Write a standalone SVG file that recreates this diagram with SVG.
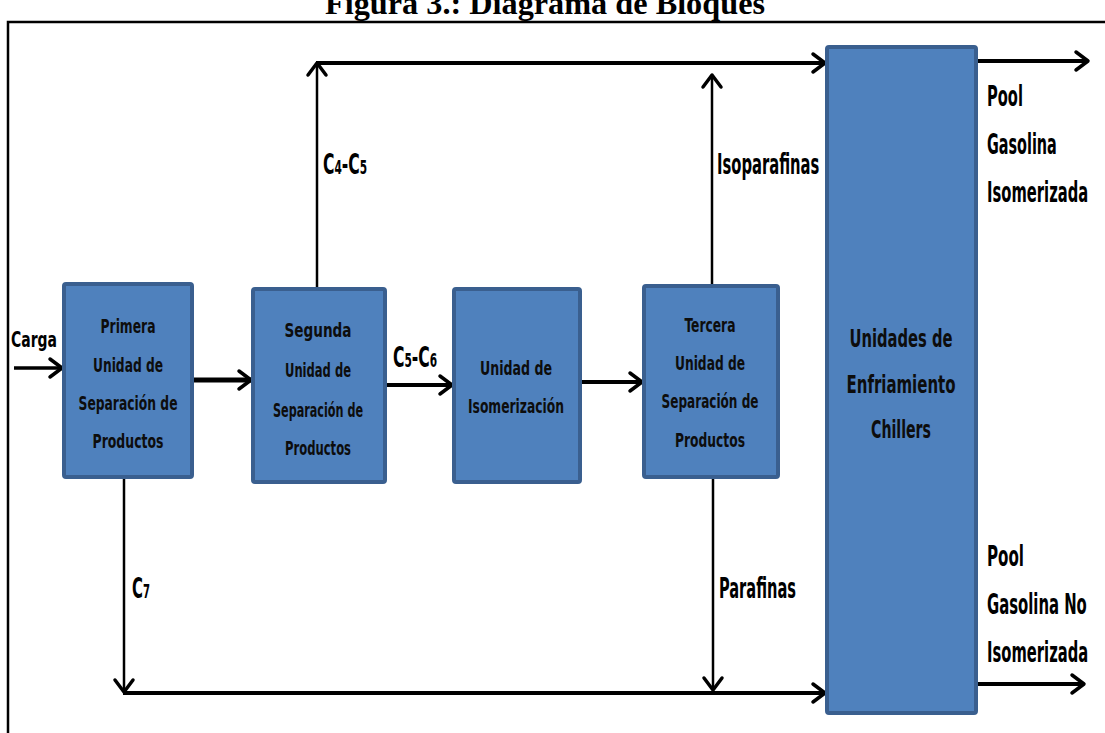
<svg xmlns="http://www.w3.org/2000/svg" width="1105" height="733" viewBox="0 0 1105 733">
<style>
.box{fill:#4F81BD;stroke:#3A5F8F;stroke-width:4}
.bt{font-family:"Liberation Sans Narrow","DejaVu Sans Condensed","Liberation Sans",sans-serif;font-weight:bold;font-size:19px;fill:#0d0d0d;text-anchor:middle}
.big{font-size:25px}
.lb{font-family:"DejaVu Sans Condensed","Liberation Sans",sans-serif;font-size:28px;font-weight:bold;fill:#000}
.sm{font-size:22px}
.sub{font-size:19px}
.ln{stroke:#000;fill:none}
</style>
<defs>
<marker id="ah" markerUnits="userSpaceOnUse" markerWidth="20" markerHeight="24" refX="15" refY="12" orient="auto">
<path d="M3,3 L15,12 L3,21" fill="none" stroke="#000" stroke-width="3.5" stroke-linecap="round" stroke-linejoin="round"/>
</marker>
</defs>
<rect width="1105" height="733" fill="#fff"/>
<text x="545" y="14" text-anchor="middle" font-family="Liberation Serif,serif" font-weight="bold" font-size="32" textLength="440" lengthAdjust="spacingAndGlyphs">Figura 3.: Diagrama de Bloques</text>
<path class="ln" d="M8,733 V22 H1105" stroke-width="2.5"/>

<g id="connectors">
<line class="ln" x1="14" y1="368" x2="62" y2="368" stroke-width="3.5" marker-end="url(#ah)"/>
<line class="ln" x1="192" y1="380" x2="251" y2="380" stroke-width="5" marker-end="url(#ah)"/>
<line class="ln" x1="385" y1="385" x2="452" y2="385" stroke-width="4" marker-end="url(#ah)"/>
<line class="ln" x1="580" y1="382" x2="642" y2="382" stroke-width="4" marker-end="url(#ah)"/>
<line class="ln" x1="317" y1="288" x2="317" y2="63" stroke-width="2.5" marker-end="url(#ah)"/>
<line class="ln" x1="316" y1="63" x2="825" y2="63" stroke-width="4" marker-end="url(#ah)"/>
<line class="ln" x1="712" y1="285" x2="712" y2="75" stroke-width="2.5" marker-end="url(#ah)"/>
<line class="ln" x1="976" y1="61" x2="1088" y2="61" stroke-width="4" marker-end="url(#ah)"/>
<line class="ln" x1="124" y1="477" x2="124" y2="692" stroke-width="2.5" marker-end="url(#ah)"/>
<line class="ln" x1="123" y1="693" x2="825" y2="693" stroke-width="4" marker-end="url(#ah)"/>
<line class="ln" x1="713" y1="477" x2="713" y2="690" stroke-width="2.5" marker-end="url(#ah)"/>
<line class="ln" x1="976" y1="684" x2="1084" y2="684" stroke-width="4" marker-end="url(#ah)"/>
<text class="lb sm" transform="translate(11,347) scale(0.706,1)">Carga</text>
<text class="lb" transform="translate(323,174) scale(0.62,1)">C<tspan class="sub">4</tspan>-C<tspan class="sub">5</tspan></text>
<text class="lb" transform="translate(393,367) scale(0.62,1)">C<tspan class="sub">5</tspan>-C<tspan class="sub">6</tspan></text>
<text class="lb" transform="translate(132,598) scale(0.59,1)">C<tspan class="sub">7</tspan></text>
<text class="lb" transform="translate(717,174) scale(0.586,1)">Isoparafinas</text>
<text class="lb" transform="translate(719,598) scale(0.58,1)">Parafinas</text>
<text class="lb" transform="translate(987,106) scale(0.583,1)">Pool</text>
<text class="lb" transform="translate(987,154) scale(0.572,1)">Gasolina</text>
<text class="lb" transform="translate(987,202) scale(0.586,1)">Isomerizada</text>
<text class="lb" transform="translate(987,566) scale(0.6,1)">Pool</text>
<text class="lb" transform="translate(987,614) scale(0.59,1)">Gasolina No</text>
<text class="lb" transform="translate(987,662) scale(0.586,1)">Isomerizada</text>
</g>

<g id="primera">
<rect class="box" x="64" y="284" width="128" height="193" rx="2"/>
<text class="bt" x="128" y="333" textLength="55" lengthAdjust="spacingAndGlyphs">Primera</text>
<text class="bt" x="128" y="372" textLength="70" lengthAdjust="spacingAndGlyphs">Unidad de</text>
<text class="bt" x="128" y="410" textLength="99" lengthAdjust="spacingAndGlyphs">Separación de</text>
<text class="bt" x="128" y="448" textLength="71" lengthAdjust="spacingAndGlyphs">Productos</text>
</g>
<g id="segunda">
<rect class="box" x="253" y="289" width="132" height="193" rx="2"/>
<text class="bt" x="318" y="337" textLength="67" lengthAdjust="spacingAndGlyphs">Segunda</text>
<text class="bt" x="318" y="377" textLength="66" lengthAdjust="spacingAndGlyphs">Unidad de</text>
<text class="bt" x="318" y="417" textLength="90" lengthAdjust="spacingAndGlyphs">Separación de</text>
<text class="bt" x="318" y="455" textLength="66" lengthAdjust="spacingAndGlyphs">Productos</text>
</g>
<g id="isomerizacion">
<rect class="box" x="454" y="289" width="126" height="193" rx="2"/>
<text class="bt" x="516" y="375" textLength="72" lengthAdjust="spacingAndGlyphs">Unidad de</text>
<text class="bt" x="516" y="413" textLength="96" lengthAdjust="spacingAndGlyphs">Isomerización</text>
</g>
<g id="tercera">
<rect class="box" x="644" y="286" width="134" height="191" rx="2"/>
<text class="bt" x="710" y="332" textLength="51" lengthAdjust="spacingAndGlyphs">Tercera</text>
<text class="bt" x="710" y="370" textLength="70" lengthAdjust="spacingAndGlyphs">Unidad de</text>
<text class="bt" x="710" y="408" textLength="97" lengthAdjust="spacingAndGlyphs">Separación de</text>
<text class="bt" x="710" y="447" textLength="70" lengthAdjust="spacingAndGlyphs">Productos</text>
</g>
<g id="chillers">
<rect class="box" x="827" y="47" width="149" height="666" rx="2"/>
<text class="bt big" x="901" y="347" textLength="103" lengthAdjust="spacingAndGlyphs">Unidades de</text>
<text class="bt big" x="901" y="393" textLength="109" lengthAdjust="spacingAndGlyphs">Enfriamiento</text>
<text class="bt big" x="901" y="438" textLength="60" lengthAdjust="spacingAndGlyphs">Chillers</text>
</g>
</svg>
